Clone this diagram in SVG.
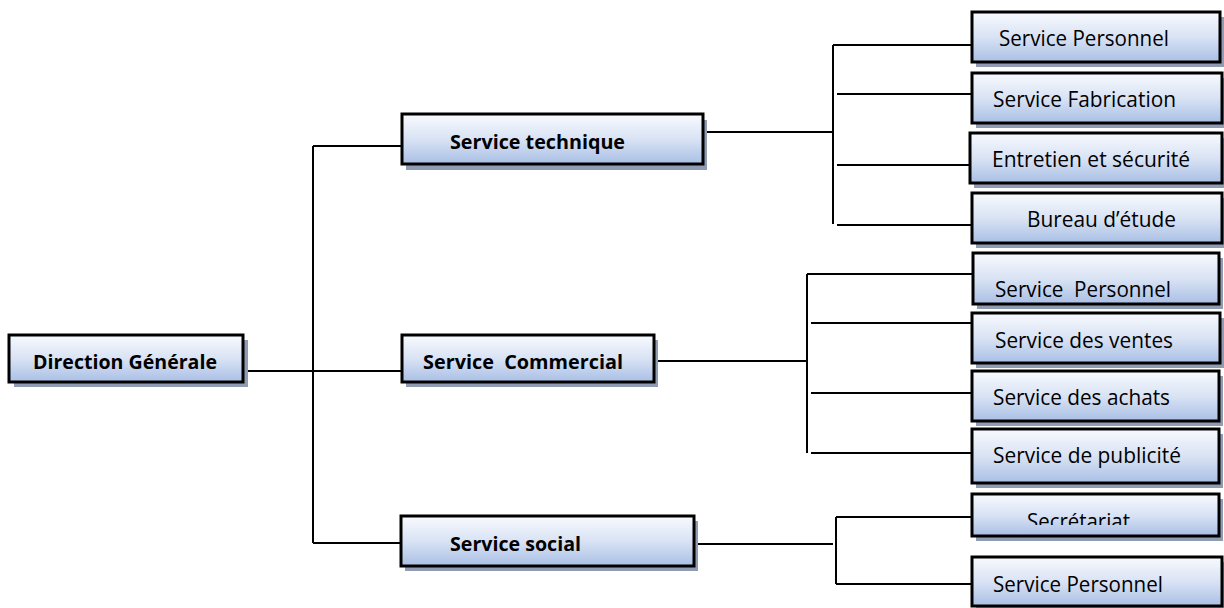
<svg xmlns="http://www.w3.org/2000/svg" width="1224" height="608" viewBox="0 0 1224 608">
<defs>
<linearGradient id="g" x1="0" y1="0" x2="0" y2="1">
<stop offset="0" stop-color="#f8fafe"/>
<stop offset="0.5" stop-color="#d9e3f4"/>
<stop offset="1" stop-color="#a9bfe5"/>
</linearGradient>
<clipPath id="clipSec"><rect x="972" y="494" width="248" height="31"/></clipPath>
</defs>
<style>
.box{fill:url(#g);stroke:#000;stroke-width:3}
.sh{fill:#8f9cb2}
.t{font-family:"Open Sans","Liberation Sans",sans-serif;font-size:21px;fill:#000}
.b{font-family:"Open Sans","Liberation Sans",sans-serif;font-size:20px;font-weight:bold;fill:#000}
.c{stroke:#000;stroke-width:2;fill:none}
</style>
<rect width="1224" height="608" fill="#fff"/>
<g id="connectors">
<path class="c" d="M313 146V543M313 146H402M243 371H402M313 543H401"/>
<path class="c" d="M703 132H833M833 45V224M833 45H972M837 94H972M837 165H972M837 225H972"/>
<path class="c" d="M653 361H807M807 274V453M807 274H972M811 323H972M811 393H972M811 453H972"/>
<path class="c" d="M694 544H833M836 517V584M836 517H972M836 584H972"/>
</g>
<g id="n-dg"><rect class="sh" x="14" y="340" width="234" height="47"/><rect class="box" x="9" y="335" width="234" height="47"/><text class="b" x="33" y="369" textLength="184" lengthAdjust="spacingAndGlyphs">Direction Générale</text></g>
<g id="n-tech"><rect class="sh" x="406" y="120" width="301" height="50"/><rect class="box" x="402" y="114" width="301" height="50"/><text class="b" x="450" y="149" textLength="175" lengthAdjust="spacingAndGlyphs">Service technique</text></g>
<g id="n-com"><rect class="sh" x="406" y="340" width="252" height="47"/><rect class="box" x="402" y="335" width="252" height="47"/><text class="b" x="423" y="369" textLength="200" lengthAdjust="spacingAndGlyphs" xml:space="preserve">Service  Commercial</text></g>
<g id="n-soc"><rect class="sh" x="405" y="521" width="293" height="50"/><rect class="box" x="401" y="516" width="293" height="50"/><text class="b" x="450" y="551" textLength="131" lengthAdjust="spacingAndGlyphs">Service social</text></g>
<g id="n-l1"><rect class="sh" x="976" y="17" width="248" height="50"/><rect class="box" x="972" y="12" width="248" height="50"/><text class="t" x="999" y="46" textLength="170" lengthAdjust="spacingAndGlyphs">Service Personnel</text></g>
<g id="n-l2"><rect class="sh" x="976" y="78" width="250" height="50"/><rect class="box" x="972" y="73" width="250" height="50"/><text class="t" x="993" y="107" textLength="183" lengthAdjust="spacingAndGlyphs">Service Fabrication</text></g>
<g id="n-l3"><rect class="sh" x="974" y="138" width="252" height="50"/><rect class="box" x="970" y="133" width="252" height="50"/><text class="t" x="992" y="167" textLength="198" lengthAdjust="spacingAndGlyphs">Entretien et sécurité</text></g>
<g id="n-l4"><rect class="sh" x="976" y="198" width="250" height="50"/><rect class="box" x="972" y="193" width="250" height="50"/><text class="t" x="1027" y="227" textLength="149" lengthAdjust="spacingAndGlyphs">Bureau d’étude</text></g>
<g id="n-l5"><rect class="sh" x="977" y="258" width="246" height="51"/><rect class="box" x="973" y="253" width="246" height="51"/><text class="t" x="995" y="297" textLength="176" lengthAdjust="spacingAndGlyphs" xml:space="preserve">Service  Personnel</text></g>
<g id="n-l6"><rect class="sh" x="976" y="318" width="248" height="50"/><rect class="box" x="972" y="313" width="248" height="50"/><text class="t" x="995" y="348" textLength="178" lengthAdjust="spacingAndGlyphs">Service des ventes</text></g>
<g id="n-l7"><rect class="sh" x="976" y="376" width="247" height="50"/><rect class="box" x="972" y="371" width="247" height="50"/><text class="t" x="993" y="405" textLength="177" lengthAdjust="spacingAndGlyphs">Service des achats</text></g>
<g id="n-l8"><rect class="sh" x="976" y="434" width="247" height="54"/><rect class="box" x="972" y="429" width="247" height="54"/><text class="t" x="993" y="463" textLength="188" lengthAdjust="spacingAndGlyphs">Service de publicité</text></g>
<g id="n-l9"><rect class="sh" x="976" y="499" width="247" height="42"/><rect class="box" x="972" y="494" width="247" height="42"/><text class="t" x="1027" y="529" textLength="103" lengthAdjust="spacingAndGlyphs" clip-path="url(#clipSec)">Secrétariat</text></g>
<g id="n-l10"><rect class="sh" x="976" y="562" width="250" height="49"/><rect class="box" x="972" y="557" width="250" height="49"/><text class="t" x="993" y="592" textLength="170" lengthAdjust="spacingAndGlyphs">Service Personnel</text></g>
</svg>
